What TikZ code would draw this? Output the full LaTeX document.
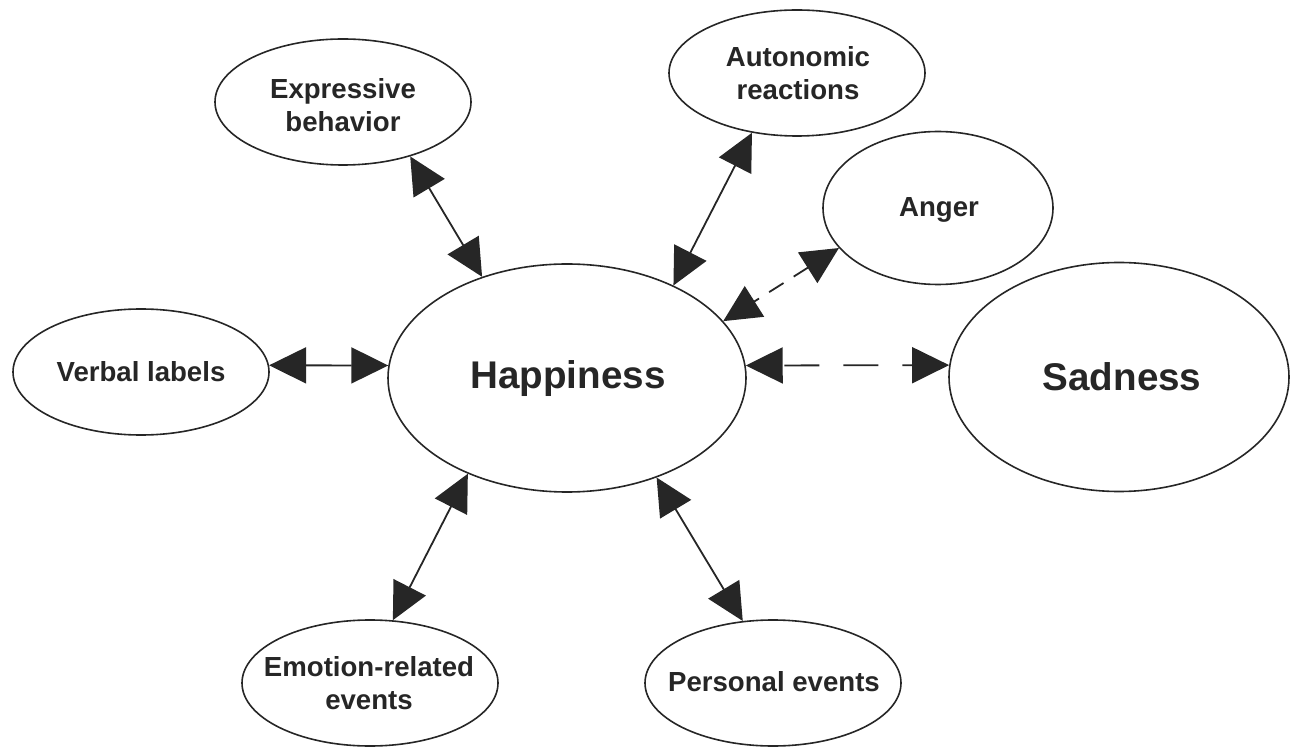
\documentclass[tikz,border=0pt]{standalone}
\usepackage{fontspec}
\setmainfont{Liberation Sans}
\usetikzlibrary{arrows.meta,shapes.geometric}
\definecolor{ink}{HTML}{262626}
\begin{document}
\begin{tikzpicture}[x=0.5pt,y=-0.5pt,
  blob/.style={ellipse, draw=ink, line width=0.8pt, inner sep=0pt, fill=white},
  smallblob/.style={blob, minimum width=128pt, minimum height=63pt},
  lbl/.style={text=ink, font=\fontsize{13.8}{16.8}\selectfont\bfseries, align=center, inner sep=0pt},
  biglbl/.style={text=ink, font=\fontsize{19.3}{23}\selectfont\bfseries, inner sep=0pt},
  link/.style={draw=ink, line width=0.9pt,
    {Triangle[length=18.5pt,width=18pt]}-{Triangle[length=18.5pt,width=18pt]}},
  shortdash/.style={dash pattern=on 8.5pt off 6pt},
  longdash/.style={dash pattern=on 17.5pt off 12pt, dash phase=-1pt}]
\useasboundingbox (0,0) rectangle (1290,748);

% ellipses
\node[blob, minimum width=179pt, minimum height=114pt] (hap) at (567,378) {};
\node[blob, minimum width=170pt, minimum height=114.5pt] (sad) at (1119,377) {};
\node[smallblob] (exp) at (343,102) {};
\node[smallblob] (aut) at (797,73) {};
\node[blob, minimum width=115pt, minimum height=76.5pt] (ang) at (938,208) {};
\node[smallblob] (verb) at (141,372) {};
\node[smallblob] (emo) at (370,683) {};
\node[smallblob] (pers) at (773,683) {};

% texts
\node[biglbl] at (568,379) {Happiness};
\node[biglbl] at (1122,377) {Sadness};
\node[lbl] at (343,105) {Expressive\\behavior};
\node[lbl] at (798,73) {Autonomic\\reactions};
\node[lbl] at (939,210) {Anger};
\node[lbl] at (141,372) {Verbal labels};
\node[lbl] at (369,683) {Emotion-related\\events};
\node[lbl] at (774,682) {Personal events};

% connectors
\draw[link] (exp.-39.2) -- (hap.130.1);
\draw[link] (aut.-127.2) -- (hap.41.3);
\draw[link, shortdash] (ang.-158.2) -- (hap.20.8);
\draw[link] (verb.3.5) -- (hap.176.1);
\draw[link, longdash] (hap.4.2) -- (sad.176.7);
\draw[link] (hap.-136.2) -- (emo.70.2);
\draw[link] (hap.-48.7) -- (pers.116.6);
\end{tikzpicture}
\end{document}
